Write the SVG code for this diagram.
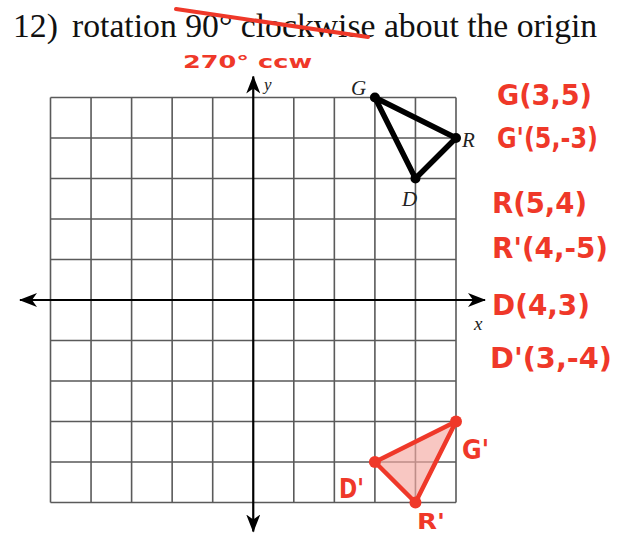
<svg xmlns="http://www.w3.org/2000/svg" width="633" height="536" viewBox="0 0 633 536">
<style>
.title{font-family:"Liberation Serif","Times New Roman",serif;font-size:33.7px;fill:#111}
.lab{font-family:"Liberation Serif","Times New Roman",serif;font-style:italic;fill:#222}
.hw{font-family:"DejaVu Sans",sans-serif;font-weight:bold;fill:#ef3829}
.grid{stroke:#5a5a5a;stroke-width:1.6;fill:none}
.axis{stroke:#000;stroke-width:2.2;fill:none}
.tri{stroke:#000;stroke-width:5.5;fill:none;stroke-linejoin:round}
.rtri{stroke:#ef3829;stroke-width:4.5;fill:#f5a9a2;fill-opacity:0.65;stroke-linejoin:round}
</style>
<defs>
<marker id="arr" viewBox="0 0 18 14" refX="17" refY="7" markerWidth="18" markerHeight="14" markerUnits="userSpaceOnUse" orient="auto-start-reverse">
<path d="M0,0 L18,7 L0,14 L5,7 Z" fill="#000"/>
</marker>
</defs>
<rect width="633" height="536" fill="#fff"/>
<g id="title">
<text class="title" x="13" y="37">12)</text>
<text class="title" x="72" y="37">rotation 90° clockwise about the origin</text>
<line x1="176" y1="9" x2="368" y2="37" stroke="#ef3829" stroke-width="4" stroke-linecap="round"/>
<text class="hw" x="183" y="68" font-size="17" textLength="129" lengthAdjust="spacingAndGlyphs">270° ccw</text>
</g>
<g id="grid">
<path class="grid" d="M50.5,97.5V502.5M91.05,97.5V502.5M131.6,97.5V502.5M172.15,97.5V502.5M212.7,97.5V502.5M293.8,97.5V502.5M334.35,97.5V502.5M374.9,97.5V502.5M415.45,97.5V502.5M456,97.5V502.5
M50.5,97.5H456M50.5,138H456M50.5,178.5H456M50.5,219H456M50.5,259.5H456M50.5,340.5H456M50.5,381H456M50.5,421.5H456M50.5,462H456M50.5,502.5H456"/>
</g>
<g id="connectors">
<line id="x-axis" class="axis" x1="20" y1="300" x2="485" y2="300" marker-start="url(#arr)" marker-end="url(#arr)"/>
<line id="y-axis" class="axis" x1="253.25" y1="531.5" x2="253.25" y2="76.5" marker-start="url(#arr)" marker-end="url(#arr)"/>
</g>
<g id="axis-labels">
<text class="lab" x="264" y="90" font-size="17">y</text>
<text class="lab" x="474" y="330" font-size="19">x</text>
</g>
<g id="triangle-GRD">
<polygon class="tri" points="374.9,97.5 456,138 415.45,178.5"/>
<circle cx="374.9" cy="97.5" r="5" fill="#000"/>
<circle cx="456" cy="138" r="5" fill="#000"/>
<circle cx="415.45" cy="178.5" r="5" fill="#000"/>
<text class="lab" x="351" y="95" font-size="21">G</text>
<text class="lab" x="462" y="147" font-size="21">R</text>
<text class="lab" x="402" y="206" font-size="21">D</text>
</g>
<g id="triangle-GRD-prime">
<polygon class="rtri" points="456,421.5 374.9,462 415.45,502.5"/>
<circle cx="456" cy="421.5" r="6" fill="#ef3829"/>
<circle cx="374.9" cy="462" r="6" fill="#ef3829"/>
<circle cx="415.45" cy="502.5" r="6" fill="#ef3829"/>
<text class="hw" x="462" y="459" font-size="26" textLength="27" lengthAdjust="spacingAndGlyphs">G'</text>
<text class="hw" x="339" y="498" font-size="26" textLength="25" lengthAdjust="spacingAndGlyphs">D'</text>
<text class="hw" x="417" y="529" font-size="21" textLength="28" lengthAdjust="spacingAndGlyphs">R'</text>
</g>
<g id="notes">
<text class="hw" x="497" y="105" font-size="28" textLength="95" lengthAdjust="spacingAndGlyphs">G(3,5)</text>
<text class="hw" x="497" y="148" font-size="28" textLength="101" lengthAdjust="spacingAndGlyphs">G'(5,-3)</text>
<text class="hw" x="492" y="213" font-size="28" textLength="95" lengthAdjust="spacingAndGlyphs">R(5,4)</text>
<text class="hw" x="492" y="258" font-size="28" textLength="116" lengthAdjust="spacingAndGlyphs">R'(4,-5)</text>
<text class="hw" x="492" y="315" font-size="28" textLength="98" lengthAdjust="spacingAndGlyphs">D(4,3)</text>
<text class="hw" x="490" y="368" font-size="28" textLength="122" lengthAdjust="spacingAndGlyphs">D'(3,-4)</text>
</g>
</svg>
